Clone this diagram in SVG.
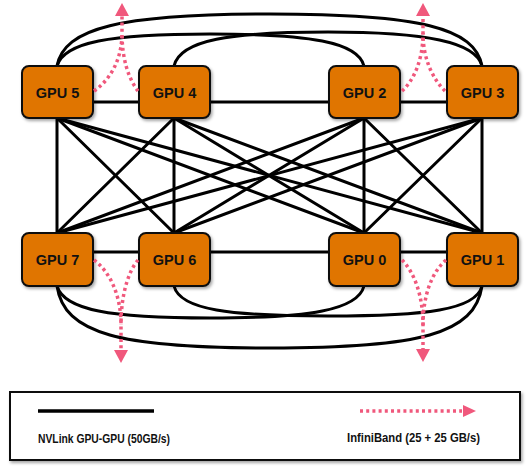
<svg xmlns="http://www.w3.org/2000/svg" width="530" height="466" viewBox="0 0 530 466">
  <defs>
    <filter id="sh" x="-20%" y="-20%" width="140%" height="140%">
      <feDropShadow dx="1.5" dy="2" stdDeviation="1.5" flood-color="#000" flood-opacity="0.35"/>
    </filter>
    <style>
      .nv { fill: none; stroke: #000; stroke-width: 3; stroke-linecap: round; }
      .ib { fill: none; stroke: #F0587C; stroke-width: 3.5; stroke-dasharray: 3 3.2; }
      .ibh { fill: #F0587C; }
      .gpu rect { fill: #E07400; stroke: #111; stroke-width: 2; filter: url(#sh); }
      .gpu text { font-family: "Liberation Sans", Arial, sans-serif; font-weight: bold; font-size: 14.5px; fill: #111; text-anchor: middle; }
      .lg { font-family: "Liberation Sans", Arial, sans-serif; font-weight: bold; font-size: 12.5px; fill: #111; }
    </style>
  </defs>
  <rect width="530" height="466" fill="#fff"/>

  <g id="connectors">
    <line class="nv" x1="57" y1="102" x2="482" y2="102"/>
    <line class="nv" x1="57" y1="252" x2="482" y2="252"/>
    <path class="nv" d="M57,66 C64,28 120,14 270,14 C420,14 475,28 482,66"/>
    <path class="nv" d="M57,66 C64,42 110,34 210,34 C310,34 358,42 364,66"/>
    <path class="nv" d="M174,66 C180,40 230,32 328,32 C426,32 476,42 482,66"/>
    <path class="nv" d="M57,286 C64,334 120,348 270,348 C420,348 475,334 482,286"/>
    <path class="nv" d="M57,286 C64,310 110,318 210,318 C310,318 358,310 364,286"/>
    <path class="nv" d="M174,286 C180,310 230,316 328,316 C426,316 476,310 482,286"/>
    <g>
      <line class="nv" x1="57" y1="118" x2="57" y2="233"/>
      <line class="nv" x1="57" y1="118" x2="174" y2="233"/>
      <line class="nv" x1="57" y1="118" x2="364" y2="233"/>
      <line class="nv" x1="57" y1="118" x2="482" y2="233"/>
      <line class="nv" x1="174" y1="118" x2="57" y2="233"/>
      <line class="nv" x1="174" y1="118" x2="174" y2="233"/>
      <line class="nv" x1="174" y1="118" x2="364" y2="233"/>
      <line class="nv" x1="174" y1="118" x2="482" y2="233"/>
      <line class="nv" x1="364" y1="118" x2="57" y2="233"/>
      <line class="nv" x1="364" y1="118" x2="174" y2="233"/>
      <line class="nv" x1="364" y1="118" x2="364" y2="233"/>
      <line class="nv" x1="364" y1="118" x2="482" y2="233"/>
      <line class="nv" x1="482" y1="118" x2="57" y2="233"/>
      <line class="nv" x1="482" y1="118" x2="174" y2="233"/>
      <line class="nv" x1="482" y1="118" x2="364" y2="233"/>
      <line class="nv" x1="482" y1="118" x2="482" y2="233"/>
    </g>
  </g>

  <g id="gpu5" class="gpu"><rect x="22" y="66" width="71" height="52" rx="7"/><text x="57.5" y="98">GPU 5</text></g>
  <g id="gpu4" class="gpu"><rect x="139" y="66" width="71" height="52" rx="7"/><text x="174.5" y="98">GPU 4</text></g>
  <g id="gpu2" class="gpu"><rect x="329" y="66" width="71" height="52" rx="7"/><text x="364.5" y="98">GPU 2</text></g>
  <g id="gpu3" class="gpu"><rect x="447" y="66" width="71" height="52" rx="7"/><text x="482.5" y="98">GPU 3</text></g>
  <g id="gpu7" class="gpu"><rect x="22" y="233" width="71" height="53" rx="7"/><text x="57.5" y="265">GPU 7</text></g>
  <g id="gpu6" class="gpu"><rect x="139" y="233" width="71" height="53" rx="7"/><text x="174.5" y="265">GPU 6</text></g>
  <g id="gpu0" class="gpu"><rect x="329" y="233" width="71" height="53" rx="7"/><text x="364.5" y="265">GPU 0</text></g>
  <g id="gpu1" class="gpu"><rect x="447" y="233" width="71" height="53" rx="7"/><text x="482.5" y="265">GPU 1</text></g>

  <g id="infiniband">
    <path class="ib" d="M94,91 C110,80 122,60 122,33 L122,16"/>
    <path class="ib" d="M138,91 C128,78 122,58 122,33"/>
    <polygon class="ibh" points="122,3 115,16 129,16"/>
    <path class="ib" d="M402,91 C414,80 423,60 423,33 L423,16"/>
    <path class="ib" d="M445,91 C432,78 423,58 423,33"/>
    <polygon class="ibh" points="423,3 416,16 430,16"/>
    <path class="ib" d="M94,260 C110,272 121,295 121,325 L121,350"/>
    <path class="ib" d="M138,260 C128,272 121,295 121,325"/>
    <polygon class="ibh" points="121,363 114,350 128,350"/>
    <path class="ib" d="M402,260 C414,272 423,295 423,325 L423,349"/>
    <path class="ib" d="M446,260 C432,272 423,295 423,325"/>
    <polygon class="ibh" points="423,362 416,349 430,349"/>
  </g>

  <g id="legend">
    <rect x="10" y="392" width="510" height="68" fill="#fff" stroke="#111" stroke-width="2" filter="url(#sh)"/>
    <line x1="38" y1="411" x2="154" y2="411" stroke="#000" stroke-width="3.5"/>
    <line x1="360" y1="411" x2="462" y2="411" class="ib"/>
    <polygon class="ibh" points="476,411 463,405 463,417"/>
    <text class="lg" x="38" y="443" textLength="132" lengthAdjust="spacingAndGlyphs">NVLink GPU-GPU (50GB/s)</text>
    <text class="lg" x="347" y="442" textLength="133" lengthAdjust="spacingAndGlyphs">InfiniBand (25 + 25 GB/s)</text>
  </g>
</svg>
